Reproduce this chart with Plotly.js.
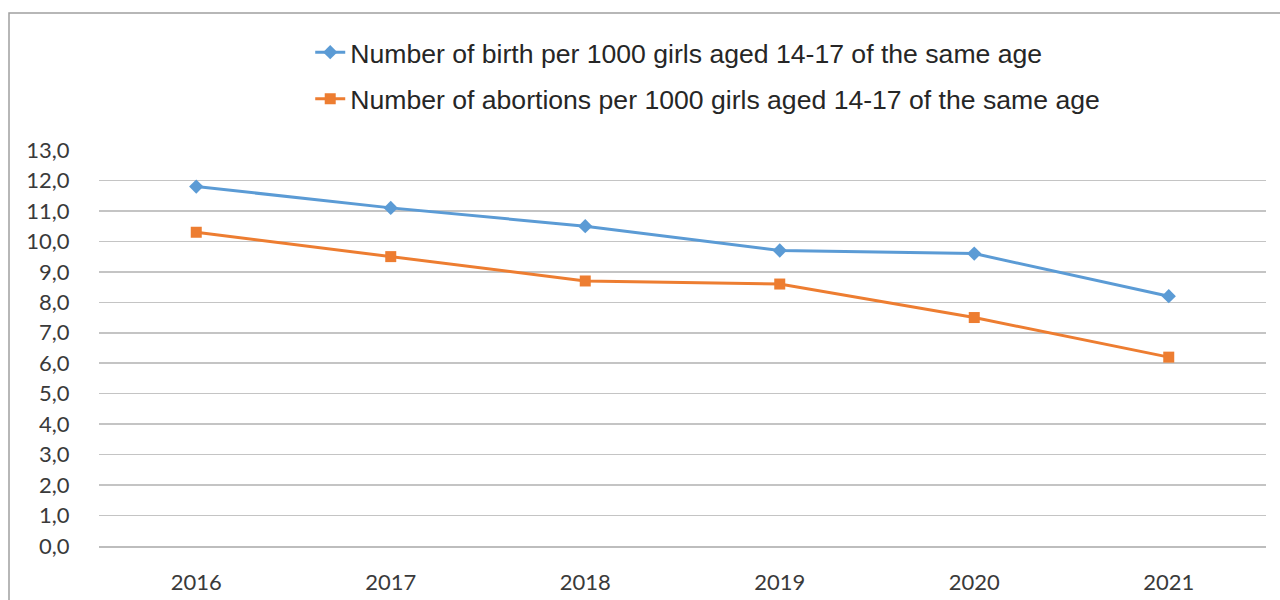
<!DOCTYPE html>
<html>
<head>
<meta charset="utf-8">
<script src="https://cdn.plot.ly/plotly-3.0.1.min.js"></script>
<style>
  html, body { margin: 0; padding: 0; background: #ffffff; }
  #chart { width: 1280px; height: 600px; }
</style>
</head>
<body>
<div id="chart"></div>
<script>
// Years on the category axis
const years = ['2016', '2017', '2018', '2019', '2020', '2021'];

// Births per 1000 girls aged 14-17
const births = [11.8, 11.1, 10.5, 9.7, 9.6, 8.2];

// Abortions per 1000 girls aged 14-17
const abortions = [10.3, 9.5, 8.7, 8.6, 7.5, 6.2];

const birthName = 'Number of birth per 1000 girls aged 14-17 of the same age';
const abortionName = 'Number of abortions per 1000 girls aged 14-17 of the same age';

const traces = [
  {
    x: years, y: births, name: birthName, type: 'scatter', mode: 'lines+markers',
    legendgroup: 'b',
    line: { color: '#5B9BD5', width: 3 },
    marker: { symbol: 'diamond', size: 11, color: '#5B9BD5' }
  },
  {
    x: years, y: abortions, name: abortionName, type: 'scatter', mode: 'lines+markers',
    legendgroup: 'a',
    line: { color: '#ED7D31', width: 3 },
    marker: { symbol: 'square', size: 11, color: '#ED7D31' }
  }
];

const tickFont = { family: 'Lato, Open Sans, sans-serif', size: 22, color: '#3a3a3a' };

const layout = {
  width: 1280, height: 600,
  margin: { l: 99, r: 14, t: 150, b: 54 },
  paper_bgcolor: '#ffffff', plot_bgcolor: '#ffffff',
  separators: ', ',
  showlegend: true,
  legend: {
    orientation: 'v',
    x: 0.181, xanchor: 'left',
    y: 1.307, yanchor: 'top',
    font: { family: 'Liberation Sans, Arial, sans-serif', size: 26.6, color: '#262626' },
    tracegroupgap: 9,
    bgcolor: 'rgba(0,0,0,0)'
  },
  xaxis: {
    type: 'category',
    range: [-0.5, 5.5],
    showgrid: false, zeroline: false,
    showline: true, linecolor: '#bdbdbd', linewidth: 1.5,
    ticks: 'outside', ticklen: 16, tickcolor: 'rgba(0,0,0,0)',
    tickfont: tickFont,
    fixedrange: true
  },
  yaxis: {
    range: [0, 13], dtick: 1, tick0: 0,
    tickformat: '.1f',
    showgrid: true, gridcolor: '#c4c4c4', gridwidth: 1.5,
    zeroline: false, showline: false,
    ticks: 'outside', ticklen: 24, tickcolor: 'rgba(0,0,0,0)',
    tickfont: tickFont,
    fixedrange: true
  },
  shapes: [
    // Frame around the chart area (left and top edges fall inside the page)
    {
      type: 'rect', xref: 'paper', yref: 'paper',
      x0: (9 - 99) / 1167, x1: (1292 - 99) / 1167,
      y0: (546 - 612) / 396, y1: (546 - 13) / 396,
      line: { color: '#a0a0a0', width: 1.5 }, fillcolor: 'rgba(0,0,0,0)'
    }
  ]
};

Plotly.newPlot('chart', traces, layout, { displayModeBar: false, staticPlot: true });
</script>
</body>
</html>
